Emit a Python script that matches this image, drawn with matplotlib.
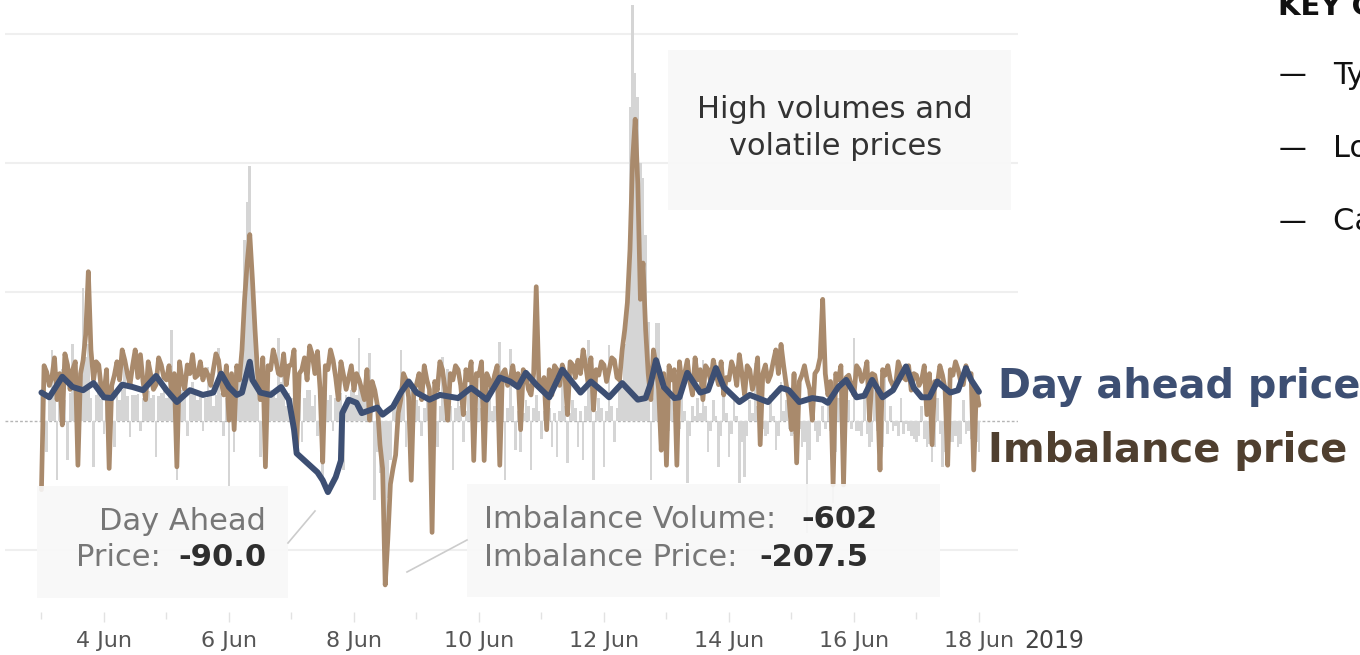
import numpy as np
import matplotlib
matplotlib.use("Agg")
import matplotlib.pyplot as plt
import matplotlib.dates as mdates
from matplotlib.patches import Rectangle
from matplotlib.lines import Line2D

W, H = 1360, 655
start = np.datetime64("2019-06-03T00:00")

# day ahead price (hours since 3 Jun 00:00, price)
da_hours = [0, 3, 8, 12, 16, 20, 24, 27, 31, 35, 39, 44, 48, 52, 57, 62, 66, 69, 72, 75,
            77, 80, 81, 84, 88, 92, 95, 97, 98, 102, 106, 108, 110, 113, 115, 115.5, 118,
            121, 123, 129, 131, 135, 138, 141, 144, 149, 153, 160, 165, 171, 176, 180, 183,
            186, 190, 195, 200, 207, 211, 216, 218, 223, 229, 232, 234, 236, 239, 243, 245,
            248, 253, 256, 259, 262, 268, 272, 279, 284, 287, 291, 296, 300, 302, 306, 309,
            313, 316, 319, 323, 327, 332, 335, 338, 341, 344, 349, 352, 355, 357, 360]
da_price = [36, 30, 56, 43, 39, 48, 30, 29, 46, 43, 39, 57, 39, 24, 39, 33, 36, 60, 43, 33,
            36, 75, 52, 36, 33, 43, 27, -11, -41, -53, -65, -75, -90, -71, -50, 10, 27,
            23, 10, 17, 8, 18, 36, 50, 36, 27, 33, 29, 42, 27, 55, 50, 43,
            61, 46, 30, 65, 36, 50, 36, 30, 48, 27, 29, 48, 77, 43, 29, 30,
            61, 36, 39, 67, 43, 24, 33, 24, 42, 39, 24, 29, 27, 23, 43, 52,
            30, 32, 52, 30, 39, 69, 42, 30, 30, 50, 36, 39, 67, 52, 37]

# imbalance price, hourly from 3 Jun 00:00 to 18 Jun 00:00
imb_price = [
    -87, 70, 62, 45, 55, 80, 27, 60, -5, 85, 71, 40, 65, 75, -56, 60, 77, 110, 189, 90, 52, 75, 71, 40,
    33, 65, -60, 45, 58, 75, 52, 90, 77, 60, 46, 70, 90, 55, 84, 50, 27, 75, 58, 40, 46, 80, 71, 55,
    52, 70, 33, 60, -58, 75, 52, 40, 71, 60, 84, 55, 58, 75, 52, 65, 58, 45, 65, 85, 77, 50, 33, 70,
    1, 60, -11, 70, 52, 90, 154, 200, 236, 180, 116, 60, 27, 80, -58, 70, 65, 90, 77, 60, 58, 85, 46, 70,
    71, 90, -33, 60, 65, 80, 52, 95, 84, 60, 88, 40, -52, 70, 65, 90, 77, 55, 27, 75, 58, 40, 55, 70,
    39, 60, 52, 40, 27, 65, 1, 50, 39, 20, -30, -60, -207.5, -150, -80, -60, -43, 10, 27, 60, 52, 30, -75, 40,
    46, 60, 27, 70, 52, 40, -141, 50, 39, 75, 65, 40, 1, 60, 52, 70, 65, 45, 8, 65, 52, 75, -50, 60,
    58, 75, -50, 60, 52, 40, 58, 70, -56, 60, 65, 45, 52, 70, 46, 60, -11, 65, 58, 40, 33, 60, 170, 50,
    39, 55, -11, 65, 33, 70, 65, 45, 71, 60, 8, 75, 71, 55, 77, 60, 90, 70, 46, 80, 14, 65, 58, 75,
    71, 50, 65, 80, 77, 55, 52, 90, 116, 150, 217, 330, 382, 300, 154, 200, 116, 60, 27, 90, 71, 40, -37, 60,
    -56, 70, 52, 65, -56, 75, 46, 60, 77, 50, 33, 80, 52, 65, 27, 70, 65, 50, 77, 60, 46, 75, 33, 55,
    52, 75, 65, 45, 84, 60, 33, 70, 65, 40, 52, 80, -30, 60, 71, 50, 58, 75, 90, 60, 97, 70, 46, 30,
    -11, 60, -53, 50, 58, 70, 52, 40, 1, 60, 65, 80, 154, 60, 33, 50, -81, 60, 52, 70, -81, 55, 58, 45,
    33, 70, 65, 50, 58, 75, 1, 60, 58, 40, -62, 65, 58, 70, 52, 45, 46, 75, 65, 55, 52, 70, 39, 60,
    58, 45, 52, 70, 8, 60, -30, 50, 46, 70, 58, 40, -56, 65, 58, 75, 65, 50, 46, 70, 58, 60, -62, 40,
    20]

# imbalance volume, hourly from 3 Jun 00:00 to 18 Jun 00:00
imb_volume = [
    100, 110, -120, 90, 275, 120, -230, 100, 200, 80, -150, 110, 300, 95, 100, 130, 515, 250, 300, 90, -180, 100, 150, 85,
    -50, 100, 120, 90, -100, 110, 80, 120, 236, 95, -62, 100, 100, 105, -40, 90, 150, 115, 90, 100, -140, 95, 110, 120,
    90, 110, 353, 130, -229, 100, 120, 95, -60, 110, 150, 120, 80, 100, -40, 90, 209, 120, 60, 100, 283, 110, -60, 90,
    -250, 100, -120, 90, 150, 300, 700, 850, 988, 600, 300, 150, -140, 100, -80, 110, 120, 100, 90, 320, 150, 264, 60, 110,
    90, 110, 60, 100, -80, 90, 120, 120, 60, 100, -60, 95, -240, 110, 80, 100, -40, 90, 100, 110, -190, 100, 80, 120,
    150, 100, 322, 110, 80, 90, 264, 100, -306, -120, -200, -250, -602, -300, -150, 50, 60, 100, 275, 130, -100, 60, 120, 90,
    80, 60, -60, 50, 100, 70, 60, 40, -100, 60, 248, 120, 200, 60, -190, 50, 90, 60, -80, 40, 120, 70, 60, 50,
    90, 50, -60, 60, 120, 40, 60, 70, 306, 120, -229, 50, 280, 60, -112, 40, -120, 30, 80, 60, -190, 50, 100, 40,
    -70, 40, 90, 50, -100, 30, -140, 40, 225, 60, -163, 30, 80, 50, -100, 40, -150, 60, 314, 120, -229, 40, 90, 50,
    -178, 40, 295, 60, -80, 50, 200, 150, 300, 450, 1217, 1612, 1350, 1256, 1000, 942, 721, 384, -229, 200, 380, 380, -100, 40,
    -110, -40, 80, 30, -50, -30, 120, 40, -240, -60, 60, 20, 90, 30, 236, 60, -120, -40, 80, 20, -178, -60, 120, 30,
    -140, -50, 90, 20, -240, -80, -217, -60, 80, 30, 225, 60, 60, -30, -60, -50, 100, 20, -112, -60, 150, 40, 80, -30,
    -60, -50, 80, -30, -100, -80, -434, -150, 100, -40, -80, -60, 60, -30, 120, -40, -318, -120, 90, -50, -60, -40, 80, -30,
    322, -40, -40, -60, 90, -50, -100, -80, 120, -40, -163, -100, 205, -50, 60, -40, -20, -60, 90, -50, -10, -40, -60, -70,
    -80, -60, 60, -70, -100, -90, -160, -100, 90, -50, -180, -120, -60, -80, -80, -60, -100, -90, 80, -50, -40, -70, 60, -80,
    -120]

key_items = ["Typical day", "Low prices", "Cash out"]


def at_hours(hours):
    return start + (np.asarray(hours, dtype=float) * 60).astype("timedelta64[m]")


da_t = at_hours(da_hours)
imb_t = at_hours(np.arange(len(imb_price)))
vol_t = at_hours(np.arange(len(imb_volume)))

plt.rcParams["font.family"] = ["DejaVu Sans"]

fig = plt.figure(figsize=(W / 100, H / 100), dpi=100, facecolor="white")

# layout in pixels
ax_left, ax_right, ax_top, ax_bottom = 5, 1018, 0, 612
zero_px = 421
px_per_price = 0.79
px_per_vol = 0.258

axv = fig.add_axes([ax_left / W, 1 - ax_bottom / H, (ax_right - ax_left) / W, (ax_bottom - ax_top) / H])
ax = axv.twinx()

axv.bar(vol_t, imb_volume, width=1 / 24, color="#d5d5d5", linewidth=0, zorder=2)
ax.plot(imb_t, imb_price, color="#a98a6c", lw=3.4, solid_joinstyle="round",
        solid_capstyle="round", zorder=3)
ax.plot(da_t, da_price, color="#3d4f73", lw=4.3, solid_joinstyle="round",
        solid_capstyle="round", zorder=4)

axv.set_ylim(-(ax_bottom - zero_px) / px_per_vol, (zero_px - ax_top) / px_per_vol)
ax.set_ylim(-(ax_bottom - zero_px) / px_per_price, (zero_px - ax_top) / px_per_price)
axv.set_xlim(start - np.timedelta64(14 * 60, "m"), start + np.timedelta64(375 * 60, "m"))

axv.set_yticks([-500, 500, 1000, 1500])
axv.grid(axis="y", color="#efefef", lw=1.5, zorder=0)
axv.axhline(0, color="#b5b5b5", lw=1, ls=(0, (2, 1.5)), zorder=1)
axv.tick_params(axis="y", length=0, labelleft=False)
ax.tick_params(axis="y", length=0, labelright=False)
for a in (ax, axv):
    for s in a.spines.values():
        s.set_visible(False)

axv.xaxis.set_major_locator(mdates.DayLocator(bymonthday=range(4, 19, 2)))
axv.xaxis.set_minor_locator(mdates.DayLocator())
axv.xaxis.set_major_formatter(plt.FuncFormatter(
    lambda v, p: f"{mdates.num2date(v).day} {mdates.num2date(v):%b}"))
axv.tick_params(axis="x", which="major", length=7, width=1, color="#e2e2e2",
                labelsize=16, labelcolor="#555555", pad=7)
axv.tick_params(axis="x", which="minor", length=5, width=1, color="#e2e2e2")


def fx(x):
    return x / W


def fy(y):
    return 1 - y / H


fig.text(fx(1024), fy(641), "2019", fontsize=17, color="#444444", va="center", ha="left")

# series labels
fig.text(fx(998), fy(387), "Day ahead price", fontsize=28.6, fontweight="bold",
         color="#3d4f73", va="center", ha="left")
fig.text(fx(988), fy(451), "Imbalance price", fontsize=28.8, fontweight="bold",
         color="#4f3f2f", va="center", ha="left")

# annotation boxes
box_kw = dict(transform=fig.transFigure, facecolor="#f8f8f8", edgecolor="none", alpha=0.9, zorder=5)
fig.add_artist(Rectangle((fx(668), fy(210)), (1011 - 668) / W, (210 - 50) / H, **box_kw))
fig.add_artist(Rectangle((fx(37), fy(598)), (288 - 37) / W, (598 - 486) / H, **box_kw))
fig.add_artist(Rectangle((fx(467), fy(597)), (940 - 467) / W, (597 - 484) / H, **box_kw))

ln_kw = dict(transform=fig.transFigure, color="#cccccc", lw=1.2, zorder=5)
fig.add_artist(Line2D([fx(288), fx(315)], [fy(543), fy(511)], **ln_kw))
fig.add_artist(Line2D([fx(407), fx(467)], [fy(572), fy(540)], **ln_kw))

tk = dict(fontsize=22, va="center", zorder=6)
fig.text(fx(835), fy(109), "High volumes and", color="#333333", ha="center", **tk)
fig.text(fx(836), fy(147), "volatile prices", color="#333333", ha="center", **tk)

fig.text(fx(266), fy(522), "Day Ahead", color="#777777", ha="right", **tk)
fig.text(fx(161), fy(558), "Price:", color="#777777", ha="right", **tk)
fig.text(fx(267), fy(558), "-90.0", color="#2e2e2e", ha="right", fontweight="bold", **tk)

fig.text(fx(484), fy(520), "Imbalance Volume:", color="#777777", ha="left", **tk)
fig.text(fx(801), fy(520), "-602", color="#2e2e2e", ha="left", fontweight="bold", **tk)
fig.text(fx(484), fy(557), "Imbalance Price:", color="#777777", ha="left", **tk)
fig.text(fx(759), fy(557), "-207.5", color="#2e2e2e", ha="left", fontweight="bold", **tk)

# cut-off key on the right (clipped by the figure edge, as in the source)
fig.text(fx(1278), fy(15), "KEY CONCEPTS", fontsize=21, fontweight="bold", color="#111111",
         ha="left", va="baseline")
for i, item in enumerate(key_items):
    y = 75 + i * 73.5
    fig.text(fx(1279), fy(y), "\u2014", fontsize=20, color="#111111", ha="left", va="center")
    fig.text(fx(1333), fy(y), item, fontsize=22, color="#111111", ha="left", va="center")

fig.savefig("out.png", dpi=100, facecolor="white")
